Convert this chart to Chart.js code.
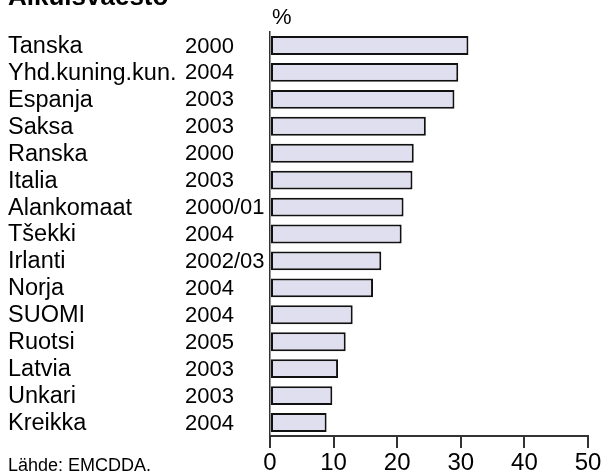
<!DOCTYPE html>
<html>
<head>
<meta charset="utf-8">
<script src="https://cdn.jsdelivr.net/npm/chart.js@4"></script>
<style>
  html, body { margin: 0; padding: 0; background: #fff; }
  #wrap { width: 608px; height: 473px; position: relative; }
</style>
</head>
<body>
<div id="wrap"><canvas id="c"></canvas></div>
<script>
// data
const countries = ['Tanska', 'Yhd.kuning.kun.', 'Espanja', 'Saksa', 'Ranska', 'Italia', 'Alankomaat',
  'Tšekki', 'Irlanti', 'Norja', 'SUOMI', 'Ruotsi', 'Latvia', 'Unkari', 'Kreikka'];
const years = ['2000', '2004', '2003', '2003', '2000', '2003', '2000/01',
  '2004', '2002/03', '2004', '2004', '2005', '2003', '2003', '2004'];
const values = [31.2, 29.6, 29.0, 24.5, 22.6, 22.4, 21.0, 20.7, 17.5, 16.2, 13.0, 11.9, 10.7, 9.8, 8.9];
const xTicks = [0, 10, 20, 30, 40, 50];

const FONT = 'Arial, "Liberation Sans", Helvetica, sans-serif';

// labels in two columns + title, unit and source
const textLayer = {
  id: 'textLayer',
  afterDraw(chart) {
    const ctx = chart.ctx, y = chart.scales.y;
    ctx.save();
    ctx.fillStyle = '#000';
    ctx.textAlign = 'left';
    ctx.textBaseline = 'middle';
    countries.forEach((name, i) => {
      const py = y.getPixelForValue(i) + 1;
      ctx.font = '23.5px ' + FONT;
      ctx.fillText(name, 8, py);
      ctx.font = '22px ' + FONT;
      ctx.fillText(years[i], 185, py);
    });
    ctx.font = '22px ' + FONT;
    ctx.fillText('%', 272, 18);

    ctx.textBaseline = 'alphabetic';
    ctx.font = 'bold 26px ' + FONT;
    ctx.fillText('Aikuisväestö', 8, 5);
    ctx.font = '18px ' + FONT;
    ctx.fillText('Lähde: EMCDDA.', 8, 471);
    ctx.restore();
  }
};

new Chart(document.getElementById('c'), {
  type: 'bar',
  data: {
    labels: countries,
    datasets: [{
      data: values,
      backgroundColor: '#dfdfef',
      borderColor: '#111',
      borderWidth: 2,
      borderSkipped: false,
      barPercentage: 0.7,
      categoryPercentage: 1
    }]
  },
  options: {
    indexAxis: 'y',
    responsive: true,
    maintainAspectRatio: false,
    animation: false,
    layout: { padding: { top: 32, right: 20, left: 0, bottom: 0 } },
    plugins: { legend: { display: false }, tooltip: { enabled: false }, title: { display: false } },
    scales: {
      x: {
        min: 0, max: 50,
        afterBuildTicks: s => { s.ticks = xTicks.map(v => ({ value: v })); },
        afterFit: s => { s.height = 37; },
        grid: { drawOnChartArea: false, drawTicks: true, tickLength: 12, color: '#333', lineWidth: 2 },
        border: { display: true, color: '#333', width: 2 },
        ticks: { color: '#000', padding: 1, font: { size: 24, family: FONT } }
      },
      y: {
        afterFit: s => { s.width = 270; },
        grid: { display: false },
        border: { display: true, color: '#333', width: 1.5 },
        ticks: { display: false }
      }
    }
  },
  plugins: [textLayer]
});
</script>
</body>
</html>
